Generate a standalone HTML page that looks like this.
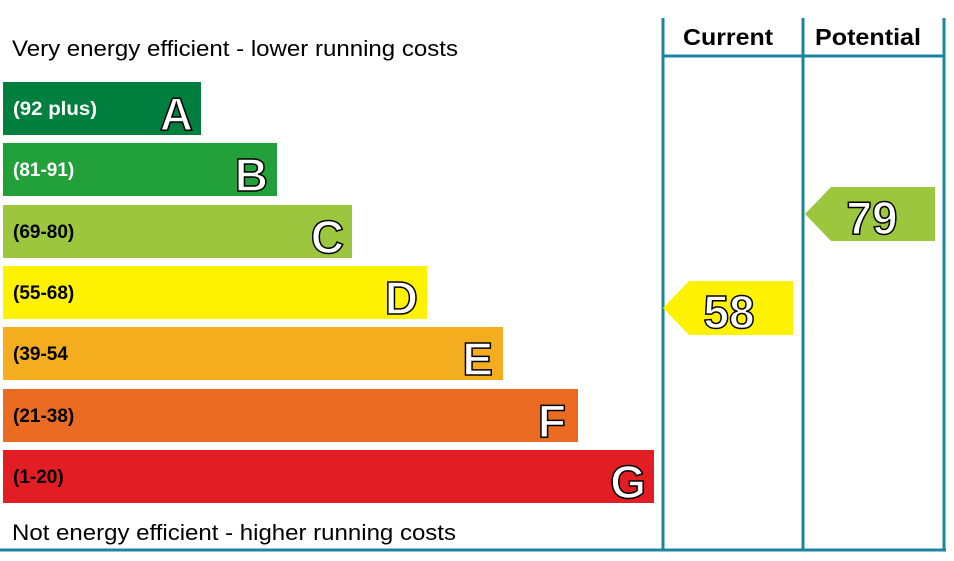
<!DOCTYPE html>
<html><head><style>
body{margin:0;background:#fff;}
</style></head><body>
<svg width="954" height="556" viewBox="0 0 954 556" xmlns="http://www.w3.org/2000/svg" font-family="'Liberation Sans', Arial, sans-serif">
<g stroke="#1c849c" stroke-width="3" fill="none">
<line x1="663" y1="18" x2="663" y2="550"/>
<line x1="803" y1="18" x2="803" y2="550"/>
<line x1="944" y1="18" x2="944" y2="550"/>
<line x1="663" y1="56" x2="944" y2="56"/>
<line x1="0" y1="550" x2="946" y2="550"/>
</g>
<text x="683" y="45" font-size="23" font-weight="bold" textLength="90" lengthAdjust="spacingAndGlyphs">Current</text>
<text x="815" y="45" font-size="23" font-weight="bold" textLength="106" lengthAdjust="spacingAndGlyphs">Potential</text>
<text x="12" y="56" font-size="22" textLength="446" lengthAdjust="spacingAndGlyphs">Very energy efficient - lower running costs</text>
<text x="12" y="540" font-size="22" textLength="444" lengthAdjust="spacingAndGlyphs">Not energy efficient - higher running costs</text>
<g font-weight="bold">
<rect x="3" y="82" width="198" height="53" fill="#007f3f"/>
<text x="13" y="115" font-size="19" fill="#fff" textLength="84" lengthAdjust="spacingAndGlyphs">(92 plus)</text>
<text x="193" y="130" font-size="46" fill="#fff" stroke="#000" stroke-width="1.5" text-anchor="end">A</text>
<rect x="3" y="143" width="274" height="53" fill="#22a03a"/>
<text x="13" y="176" font-size="19" fill="#fff">(81-91)</text>
<text x="268" y="191" font-size="46" fill="#fff" stroke="#000" stroke-width="1.5" text-anchor="end">B</text>
<rect x="3" y="205" width="349" height="53" fill="#9bc63e"/>
<text x="13" y="238" font-size="19" fill="#000">(69-80)</text>
<text x="344" y="253" font-size="46" fill="#fff" stroke="#000" stroke-width="1.5" text-anchor="end">C</text>
<rect x="3" y="266" width="424" height="53" fill="#fef200"/>
<text x="13" y="299" font-size="19" fill="#000">(55-68)</text>
<text x="418" y="314" font-size="46" fill="#fff" stroke="#000" stroke-width="1.5" text-anchor="end">D</text>
<rect x="3" y="327" width="500" height="53" fill="#f4ad1f"/>
<text x="13" y="360" font-size="19" fill="#000">(39-54</text>
<text x="493" y="375" font-size="46" fill="#fff" stroke="#000" stroke-width="1.5" text-anchor="end">E</text>
<rect x="3" y="389" width="575" height="53" fill="#eb6b23"/>
<text x="13" y="422" font-size="19" fill="#000">(21-38)</text>
<text x="566" y="437" font-size="46" fill="#fff" stroke="#000" stroke-width="1.5" text-anchor="end">F</text>
<rect x="3" y="450" width="651" height="53" fill="#e31d24"/>
<text x="13" y="483" font-size="19" fill="#000">(1-20)</text>
<text x="646" y="498" font-size="46" fill="#fff" stroke="#000" stroke-width="1.5" text-anchor="end">G</text>
<polygon points="663,308 689,281 793,281 793,335 689,335" fill="#fef200"/>
<text x="729" y="328" font-size="46" fill="#fff" stroke="#000" stroke-width="1.5" text-anchor="middle">58</text>
<polygon points="805,214 831,187 935,187 935,241 831,241" fill="#9bc63e"/>
<text x="872" y="234" font-size="46" fill="#fff" stroke="#000" stroke-width="1.5" text-anchor="middle">79</text>
</g>
</svg>
</body></html>
